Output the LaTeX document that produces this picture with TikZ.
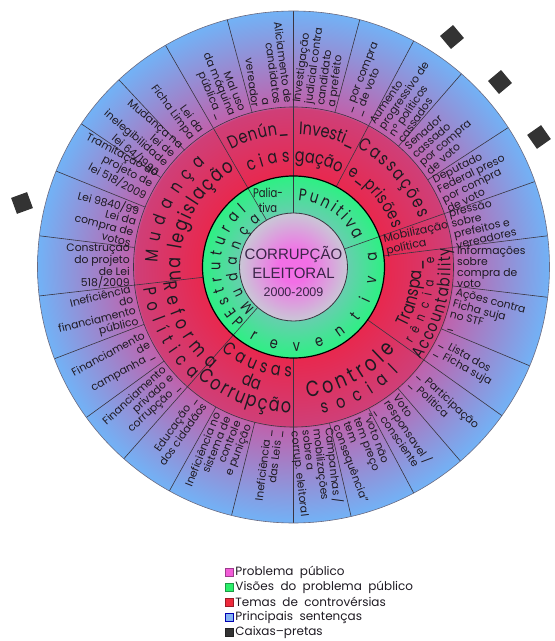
\documentclass[tikz,border=0pt]{standalone}
\usepackage{fontspec}
\setmainfont{Poppins}
\newfontfamily\ringfont[FakeStretch=0.8]{Poppins}
\newfontfamily\corefont{Liberation Sans}
\usetikzlibrary{decorations.text,positioning}

\definecolor{ink}{HTML}{1E1A22}
\definecolor{coreink}{HTML}{3A2448}
\definecolor{linegray}{HTML}{3A3540}
\definecolor{rimgray}{HTML}{6A6A80}
\definecolor{ringred}{HTML}{E8284E}
\definecolor{ringpink}{HTML}{CF3F78}
\definecolor{ringviolet}{HTML}{BF62AC}
\definecolor{ringblue}{HTML}{72B2F6}
\definecolor{grin}{HTML}{66CFAE}
\definecolor{grout}{HTML}{2DF083}
\definecolor{corepink}{HTML}{F26FE6}
\definecolor{coregray}{HTML}{C9C7D6}
\definecolor{boxgray}{HTML}{333333}
\definecolor{legpink}{HTML}{F25CD8}
\definecolor{leggreen}{HTML}{2BEF6A}
\definecolor{legred}{HTML}{EE2A3C}
\definecolor{legblue}{HTML}{86B4F2}

\pgfdeclareradialshading{ringshade}{\pgfpointorigin}{color(0bp)=(ringred); color(8.9bp)=(ringred); color(15.5bp)=(ringpink); color(15.7bp)=(ringviolet); color(25bp)=(ringblue); color(50bp)=(ringblue)}
\pgfdeclareradialshading{greenshade}{\pgfpointorigin}{color(0bp)=(grin); color(14.8bp)=(grin); color(25bp)=(grout); color(50bp)=(grout)}
\pgfdeclareradialshading{coreshade}{\pgfpointorigin}{color(0bp)=(corepink); color(7bp)=(corepink); color(25bp)=(coregray); color(50bp)=(coregray)}

\newcommand\sentsize{\fontsize{10.8}{11}\selectfont}
\newcommand\rf[1]{\ringfont\fontsize{#1}{#1}\selectfont\color{ink}}

\tikzset{
  divider/.style={draw=linegray, line width=0.6pt},
  sentR/.style={font=\sentsize, text=ink, align=left, anchor=west, inner sep=0.5pt},
  sentL/.style={font=\sentsize, text=ink, align=right, anchor=east, inner sep=0.5pt},
  arctext/.style={decorate, decoration={text along path, text align=center, text={#1}}},
  fittext/.style={decorate, decoration={text along path, text align={fit to path}, text={#1}}},
  blackbox/.style={fill=boxgray, minimum size=17pt, inner sep=0pt},
  legsq/.style={draw=#1!65!black, fill=#1, minimum size=8pt, inner sep=0pt},
  legtext/.style={font=\fontsize{12}{12}\selectfont, text=ink, inner sep=0pt},
}

\begin{document}
\begin{tikzpicture}[x=1pt, y=1pt]
  \useasboundingbox (0,0) rectangle (555,641);

  \begin{scope}[shift={(293.5,374)}]
    % Rings
    \shade[shading=ringshade] (0,0) circle (256);
    \shade[shading=greenshade] (0,0) circle (91);
    \shade[shading=coreshade] (0,0) circle (54);

    % Sector borders
    \foreach \a in {90,120,19.5,228.5}
      \draw[divider] (\a:54) -- (\a:256);
    \foreach \a in {62,7,-35.5,270,186.5}
      \draw[divider] (\a:91) -- (\a:256);
    \foreach \a in {75,49,33,-6.8,-22.7,-49.3,-62,-77,256,241,216,201,173,158,146,133,105}
      \draw[divider] (\a:160) -- (\a:256);

    % Ring outlines
    \draw[draw=rimgray, line width=0.6pt] (0,0) circle (256);
    \draw[divider] (0,0) circle (160);
    \draw[line width=1.2pt] (0,0) circle (91);
    \draw[draw=linegray, line width=0.8pt] (0,0) circle (54);

    % Public problem
    \node[font={\corefont\fontsize{15}{19}\selectfont}, text=coreink, align=center] (core) at (0,-4.5)
      {CORRUPÇÃO\\ELEITORAL\\[-1pt]{\fontsize{12.5}{15}\selectfont 2000-2009}};

    % Visions (green ring)
    \path[fittext={|\rf{17}|Punitiva}] (86:67) arc[start angle=86, end angle=24, radius=67];
    \path[fittext={|\rf{16}|Preventiva}] (-138:84) arc[start angle=-138, end angle=10, radius=84];
    \path[fittext={|\rf{16}|Estrutural}] (219:73) arc[start angle=219, end angle=130, radius=73];
    \path[fittext={|\rf{15}|Mudança}] (227:57) arc[start angle=227, end angle=125, radius=57];
    \node[font={\ringfont\fontsize{12.5}{15}\selectfont}, text=ink, align=center, inner sep=0pt] (pal) at (-25.5,67) {Palia-\\tiva};

    % Themes (red ring)
    \path[fittext={|\rf{18}|Denún{\_}}] (118:133) arc[start angle=118, end angle=92, radius=133];
    \path[fittext={|\rf{18}|cias}] (115:105) arc[start angle=115, end angle=92, radius=105];
    \path[arctext={|\rf{18}|Investi{\_}}] (98:133) arc[start angle=98, end angle=53, radius=133];
    \path[arctext={|\rf{18}|gação}] (100:105) arc[start angle=100, end angle=53, radius=105];
    \path[fittext={|\rf{18}|Cassações}] (62:135) arc[start angle=62, end angle=21, radius=135];
    \path[fittext={|\rf{17}|e{\_}prisões}] (60:107) arc[start angle=60, end angle=21, radius=107];
    \node[font=\fontsize{11}{10.5}\selectfont, text=ink, align=left, anchor=west, rotate=12, inner sep=0pt] (mob) at (13.25:94) {Mobilização\\política};
    \path[arctext={|\rf{18}|Transpa{\_}}] (-45:128) arc[start angle=-45, end angle=20, radius=128];
    \path[fittext={|\rf{13}|rência e}] (-33:141) arc[start angle=-33, end angle=4, radius=141];
    \path[fittext={|\rf{17}|Accountability}] (-36:157) arc[start angle=-36, end angle=7, radius=157];
    \path[fittext={|\rf{22}|Controle}] (-84:131) arc[start angle=-84, end angle=-39, radius=131];
    \path[fittext={|\rf{18}|social}] (-79:149) arc[start angle=-79, end angle=-45, radius=149];
    \path[fittext={|\rf{18}|Causas}] (-131:110) arc[start angle=-131, end angle=-91, radius=110];
    \path[arctext={|\rf{18}|da}] (-140:128) arc[start angle=-140, end angle=-80, radius=128];
    \path[fittext={|\rf{20}|Corrupção}] (-131:146) arc[start angle=-131, end angle=-91, radius=146];
    \path[fittext={|\rf{19}|Reforma}] (187:131) arc[start angle=187, end angle=231, radius=131];
    \path[fittext={|\rf{18}|Política}] (188:151) arc[start angle=188, end angle=228, radius=151];
    \path[fittext={|\rf{18}|Mudança}] (178:136) arc[start angle=178, end angle=130, radius=136];
    \path[fittext={|\rf{20}|na legislação}] (187:113) arc[start angle=187, end angle=121, radius=113];

    % Main sentences (blue ring), right half
    \node[sentR, rotate=82.5] (s1) at (82.5:163) {Investigação\\judicial contra\\candidato\\a prefeito};
    \node[sentR, rotate=68.5] (s2) at (68.5:163) {\_ por compra\\\_ de voto};
    \node[sentR, rotate=55.5] (s3) at (55.5:163) {Aumento\\progressivo de\\nº políticos\\cassados};
    \node[sentR, rotate=41] (s4) at (41:163) {Senador\\cassado\\por compra\\de voto};
    \node[sentR, rotate=26.25] (s5) at (26.25:163) {Deputado\\Federal preso\\por compra\\de voto};
    \node[sentR, rotate=13.25] (s6) at (13.25:163) {pressão\\sobre\\prefeitos e\\vereadores};
    \node[sentR, rotate=0.1] (s7) at (0.1:163) {Informações\\sobre\\compra de\\voto};
    \node[sentR, rotate=-14.75] (s8) at (-14.75:163) {Ações contra\\Ficha suja\\no STF\\\_};
    \node[sentR, rotate=-29.1] (s9) at (-29.1:163) {\_ Lista dos\\\_ Ficha suja};
    \node[sentR, rotate=-42.4] (s10) at (-42.4:163) {\_ Participação\\\_ Política};
    \node[sentR, rotate=-55.65] (s11) at (-55.65:163) {Voto\\responsavel /\\\_ consciente};
    \node[sentR, rotate=-69.5] (s12) at (-69.5:163) {“voto não\\tem preço\\tem\\consequência”};
    \node[sentR, rotate=-83.5] (s13) at (-83.5:163) {Campanhas /\\mobilizações\\sobre a\\corrup. eleitoral};

    % Main sentences (blue ring), left half
    \node[sentL, rotate=83] (s14) at (263:163) {Ineficiência \_\\das Leis \_};
    \node[sentL, rotate=68.5] (s15) at (248.5:163) {Ineficiência no\\sistema de\\controle\\e punição};
    \node[sentL, rotate=54.75] (s16) at (234.75:163) {Educação \_\\dos cidadãos};
    \node[sentL, rotate=42.25] (s17) at (222.25:163) {Financiamento\\privado e\\corrupção \_};
    \node[sentL, rotate=28.5] (s18) at (208.5:163) {Financiamento\\de\\campanha \_};
    \node[sentL, rotate=13.75] (s19) at (193.75:163) {Ineficiência\\do\\financiamento\\público};
    \node[sentL, rotate=-0.25] (s20) at (179.75:163) {Construção\\do projeto\\de Lei\\518/2009};
    \node[sentL, rotate=-14.5] (s21) at (165.5:163) {Lei 9840/99\\Lei da\\compra de\\votos};
    \node[sentL, rotate=-28] (s22) at (152:163) {Tramitação do\\projeto de\\lei 518/2009\\\_};
    \node[sentL, rotate=-40.5] (s23) at (139.5:163) {Mudança na\\lei de\\inelegibilidade\\lei 64/1990};
    \node[sentL, rotate=-53.5] (s24) at (126.5:163) {Lei da\\Ficha Limpa};
    \node[sentL, rotate=-67.5] (s25) at (112.5:163) {Mal uso\\da máquina\\pública \_};
    \node[sentL, rotate=-82.5] (s26) at (97.5:163) {Aliciamento de\\candidatos\\a\\vereador};
  \end{scope}

  % Black boxes
  \node[blackbox, rotate=40] (bx1) at (452,604) {};
  \node[blackbox, rotate=40] (bx2) at (500,559) {};
  \node[blackbox, rotate=35] (bx3) at (539,504) {};
  \node[blackbox, rotate=20] (bx4) at (22,438) {};

  % Legend
  \node[legsq=legpink] (lsq1) at (229,69) {};
  \node[legsq=leggreen] (lsq2) at (229,54) {};
  \node[legsq=legred] (lsq3) at (229,39) {};
  \node[legsq=legblue, draw=blue!70!black] (lsq4) at (229,24) {};
  \node[legsq=boxgray] (lsq5) at (229,9) {};
  \node[legtext, right=2pt of lsq1] (leg1) {Problema\ \ público};
  \node[legtext, right=2pt of lsq2] (leg2) {Visões\ \ do\ \ problema\ \ público};
  \node[legtext, right=2pt of lsq3] (leg3) {Temas\ \ de\ \ controvérsias};
  \node[legtext, right=2pt of lsq4] (leg4) {Principais\ \ sentenças};
  \node[legtext, right=2pt of lsq5] (leg5) {Caixas--pretas};
\end{tikzpicture}
\end{document}
